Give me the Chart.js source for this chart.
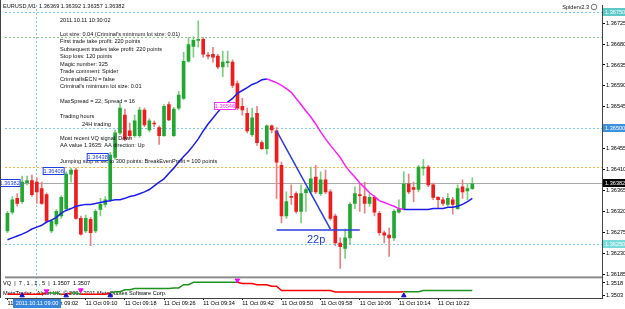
<!DOCTYPE html>
<html>
<head>
<meta charset="utf-8">
<script src="https://cdn.jsdelivr.net/npm/chart.js@4.4.1/dist/chart.umd.min.js"></script>
<style>
html, body { margin: 0; padding: 0; background: #fff; }
#wrap { position: relative; width: 625px; height: 309px; }
</style>
</head>
<body>
<div id="wrap"><canvas id="eurusd-chart" width="625" height="309"></canvas></div>
<script>
// EURUSD M1, 11 Oct 2011, first bar 08:54
const startMinute = 8 * 60 + 54;
const slotCount = 122; // bars + empty space to the right (chart shift)
const timeLabels = [];
for (let i = 0; i < slotCount; i++) {
    const m = startMinute + i;
    timeLabels.push(String(Math.floor(m / 60)).padStart(2, '0') + ':' + String(m % 60).padStart(2, '0'));
}

const openPrices = [
    1.36278, 1.36318, 1.36348, 1.36341, 1.36381, 1.36386, 1.36383, 1.36369, 1.36356, 1.36278,
    1.36293, 1.36310, 1.36326, 1.36400, 1.36409, 1.36305, 1.36278, 1.36303, 1.36278, 1.36324,
    1.36335, 1.36345, 1.36436, 1.36489, 1.36527, 1.36493, 1.36483, 1.36483, 1.36538, 1.36495,
    1.36510, 1.36500, 1.36483, 1.36550, 1.36483, 1.36542, 1.36563, 1.36643, 1.36675, 1.36688,
    1.36690, 1.36656, 1.36658, 1.36654, 1.36631, 1.36640, 1.36641, 1.36595, 1.36546, 1.36531,
    1.36485, 1.36531, 1.36468, 1.36455, 1.36504, 1.36493, 1.36419, 1.36310, 1.36352, 1.36358,
    1.36320, 1.36360, 1.36362, 1.36394, 1.36358, 1.36388, 1.36362, 1.36310, 1.36252, 1.36240,
    1.36263, 1.36337, 1.36356, 1.36352, 1.36337, 1.36350, 1.36316, 1.36274, 1.36269, 1.36263,
    1.36318, 1.36326, 1.36379, 1.36371, 1.36367, 1.36413, 1.36415, 1.36377, 1.36350, 1.36345,
    1.36335, 1.36345, 1.36326, 1.36373, 1.36364, 1.36369
];
const highPrices = [
    1.36320, 1.36352, 1.36358, 1.36396, 1.36396, 1.36398, 1.36392, 1.36383, 1.36360, 1.36303,
    1.36324, 1.36354, 1.36405, 1.36413, 1.36413, 1.36310, 1.36312, 1.36307, 1.36324, 1.36348,
    1.36352, 1.36447, 1.36495, 1.36553, 1.36540, 1.36510, 1.36527, 1.36544, 1.36542, 1.36519,
    1.36515, 1.36504, 1.36550, 1.36555, 1.36544, 1.36578, 1.36662, 1.36694, 1.36696, 1.36730,
    1.36694, 1.36662, 1.36673, 1.36658, 1.36665, 1.36665, 1.36646, 1.36601, 1.36563, 1.36542,
    1.36542, 1.36546, 1.36472, 1.36506, 1.36506, 1.36500, 1.36426, 1.36362, 1.36377, 1.36362,
    1.36377, 1.36371, 1.36415, 1.36419, 1.36405, 1.36409, 1.36367, 1.36314, 1.36263, 1.36282,
    1.36339, 1.36373, 1.36379, 1.36383, 1.36358, 1.36354, 1.36320, 1.36278, 1.36284, 1.36324,
    1.36345, 1.36405, 1.36400, 1.36383, 1.36419, 1.36432, 1.36419, 1.36381, 1.36352, 1.36350,
    1.36358, 1.36350, 1.36377, 1.36388, 1.36379, 1.36392
];
const lowPrices = [
    1.36274, 1.36314, 1.36331, 1.36337, 1.36377, 1.36352, 1.36337, 1.36335, 1.36295, 1.36274,
    1.36288, 1.36305, 1.36322, 1.36383, 1.36303, 1.36269, 1.36274, 1.36246, 1.36274, 1.36310,
    1.36329, 1.36341, 1.36432, 1.36485, 1.36472, 1.36476, 1.36479, 1.36479, 1.36502, 1.36491,
    1.36502, 1.36464, 1.36481, 1.36515, 1.36481, 1.36538, 1.36561, 1.36641, 1.36652, 1.36673,
    1.36652, 1.36648, 1.36641, 1.36627, 1.36610, 1.36631, 1.36586, 1.36538, 1.36527, 1.36489,
    1.36481, 1.36462, 1.36453, 1.36443, 1.36489, 1.36348, 1.36295, 1.36305, 1.36335, 1.36316,
    1.36295, 1.36320, 1.36358, 1.36358, 1.36354, 1.36358, 1.36301, 1.36246, 1.36197, 1.36219,
    1.36250, 1.36326, 1.36320, 1.36316, 1.36331, 1.36310, 1.36269, 1.36252, 1.36223, 1.36257,
    1.36316, 1.36324, 1.36358, 1.36341, 1.36362, 1.36398, 1.36373, 1.36345, 1.36326, 1.36333,
    1.36331, 1.36314, 1.36324, 1.36348, 1.36345, 1.36367
];
const closePrices = [
    1.36316, 1.36345, 1.36337, 1.36383, 1.36386, 1.36356, 1.36362, 1.36337, 1.36299, 1.36299,
    1.36320, 1.36350, 1.36400, 1.36409, 1.36305, 1.36271, 1.36305, 1.36274, 1.36320, 1.36335,
    1.36345, 1.36441, 1.36489, 1.36542, 1.36476, 1.36483, 1.36515, 1.36538, 1.36506, 1.36515,
    1.36508, 1.36483, 1.36546, 1.36517, 1.36540, 1.36570, 1.36643, 1.36679, 1.36688, 1.36690,
    1.36658, 1.36654, 1.36652, 1.36631, 1.36641, 1.36641, 1.36591, 1.36542, 1.36538, 1.36493,
    1.36521, 1.36468, 1.36455, 1.36504, 1.36495, 1.36426, 1.36310, 1.36341, 1.36350, 1.36320,
    1.36358, 1.36367, 1.36390, 1.36362, 1.36388, 1.36362, 1.36305, 1.36252, 1.36244, 1.36263,
    1.36335, 1.36358, 1.36354, 1.36337, 1.36350, 1.36318, 1.36274, 1.36269, 1.36263, 1.36320,
    1.36326, 1.36379, 1.36362, 1.36367, 1.36415, 1.36415, 1.36377, 1.36350, 1.36345, 1.36337,
    1.36348, 1.36335, 1.36369, 1.36362, 1.36369, 1.36379
];

// moving average, blue while rising, magenta while falling
const maValues = [
    1.36259, 1.36263, 1.36267, 1.36271, 1.36276, 1.36282, 1.36286, 1.36290, 1.36297, 1.36301,
    1.36307, 1.36316, 1.36322, 1.36326, 1.36331, 1.36333, 1.36335, 1.36335, 1.36337, 1.36339,
    1.36341, 1.36343, 1.36345, 1.36345, 1.36348, 1.36352, 1.36354, 1.36358, 1.36362, 1.36367,
    1.36375, 1.36383, 1.36390, 1.36402, 1.36413, 1.36426, 1.36438, 1.36449, 1.36462, 1.36476,
    1.36493, 1.36508, 1.36521, 1.36534, 1.36546, 1.36555, 1.36563, 1.36574, 1.36580, 1.36586,
    1.36593, 1.36597, 1.36603, 1.36605, 1.36601, 1.36597, 1.36591, 1.36584, 1.36576, 1.36563,
    1.36550, 1.36536, 1.36523, 1.36508, 1.36491, 1.36476, 1.36462, 1.36449, 1.36436, 1.36419,
    1.36405, 1.36394, 1.36381, 1.36371, 1.36360, 1.36352, 1.36343, 1.36339, 1.36335, 1.36331,
    1.36326, 1.36324, 1.36324, 1.36324, 1.36324, 1.36324, 1.36324, 1.36326, 1.36326, 1.36326,
    1.36329, 1.36329, 1.36331, 1.36335, 1.36341, 1.36348
];
const maFallStart = 53;
const maFallEnd = 81;

// trend lines drawn on the chart
const trendDiagonal = [['09:49', 1.36493], ['10:00', 1.36282]];
const trendFlat = [['09:49', 1.36280], ['10:06', 1.36280]];
const trendLabel = '22p';

// horizontal levels
const levelPrices = [1.36750, 1.36696, 1.36500, 1.36415, 1.36382, 1.36250];
const priceTicks = [1.36725, 1.36680, 1.36635, 1.36590, 1.36545, 1.36500, 1.36455,
    1.36410, 1.36365, 1.36320, 1.36275, 1.36230, 1.36185];

// price tags on the chart: [bar time, price]
const priceTags = [['08:57', 1.36382], ['09:06', 1.36406], ['09:15', 1.36438], ['09:41', 1.36546]];

// VQ indicator (lower window)
const vqValues = [
    1.35046, 1.35046, 1.35046, 1.35046, 1.35046, 1.35046, 1.35046, 1.35046, 1.35061, 1.35061,
    1.35061, 1.35046, 1.35046, 1.35061, 1.35061, 1.35046, 1.35046, 1.35046, 1.35046, 1.35046,
    1.35046, 1.35061, 1.35076, 1.35076, 1.35100, 1.35100, 1.35115, 1.35115, 1.35115, 1.35115,
    1.35115, 1.35115, 1.35115, 1.35115, 1.35122, 1.35122, 1.35160, 1.35160, 1.35188, 1.35188,
    1.35188, 1.35188, 1.35188, 1.35188, 1.35188, 1.35188, 1.35188, 1.35188, 1.35173, 1.35173,
    1.35173, 1.35160, 1.35160, 1.35160, 1.35142, 1.35142, 1.35090, 1.35090, 1.35090, 1.35090,
    1.35090, 1.35090, 1.35090, 1.35090, 1.35090, 1.35090, 1.35090, 1.35075, 1.35075, 1.35075,
    1.35075, 1.35075, 1.35075, 1.35075, 1.35075, 1.35075, 1.35075, 1.35075, 1.35075, 1.35075,
    1.35075, 1.35078, 1.35078, 1.35078, 1.35078, 1.35090, 1.35090, 1.35090, 1.35090, 1.35090,
    1.35090, 1.35090, 1.35090, 1.35090, 1.35090, 1.35090
];
const vqTurns = [[0, -1], [8, 1], [11, -1], [13, 1], [15, -1], [21, 1], [47, -1], [81, 1]];
const vqUpArrows = [['08:57', 1.35032], ['09:06', 1.35032], ['09:15', 1.35032], ['10:15', 1.35032]];
const vqDownArrows = [['09:02', 1.35084], ['09:09', 1.35096], ['09:41', 1.35211]];
const vqTicks = [1.3518, 1.3503];

const infoLines = [
    ['2011.10.11 10:30:02', 20],
    ["Lot size: 0.04 (Criminal's minimum lot size: 0.01)", 34],
    ['First trade take profit: 220 points', 41.5],
    ['Subsequent trades take profit: 220 points', 49],
    ['Stop loss: 120 points', 56.5],
    ['Magic number: 325', 64],
    ['Trade comment: Spider', 71.5],
    ['CriminalIsECN = false', 79],
    ["Criminal's minimum lot size: 0.01", 86.5],
    ['MaxSpread = 22; Spread = 16', 101.5],
    ['Trading hours', 116.5],
    ['Most recent VQ signal: Down', 138],
    ['AA value 1.3635: AA direction: Up', 145.5],
    ['Jumping stop is set to 300 points: BreakEvenProfit = 100 points', 161]
];

const BULL = '#22a832', BEAR = '#ee1c1c';
const BULL_WICK = '#7ccf7c', BEAR_WICK = '#eb8080';
const SMALL_FONT = '5.6px "Liberation Sans", Arial, sans-serif';

function vqDirAt(i) {
    let d = -1;
    vqTurns.forEach(t => { if (i >= t[0]) d = t[1]; });
    return d;
}

const levelStyle = [
    {color: '#7cc6f0', dash: [2, 2]},
    {color: '#8cc88c', dash: [2, 2]},
    {color: '#7cc6f0', dash: [2, 2]},
    {color: '#ffb347', dash: [2, 2]},
    {color: '#a8a8a8', dash: []},
    {color: '#7cc6f0', dash: [2, 2]}
];
const axisTags = [
    {level: 0, bg: '#5cc8c8', fg: '#fff'},
    {level: 2, bg: '#3d8fe0', fg: '#fff'},
    {level: 4, bg: '#000', fg: '#fff'},
    {level: 5, bg: '#79dada', fg: '#fff'}
];

const mt4Overlay = {
    id: 'mt4Overlay',
    beforeDatasetsDraw(chart) {
        const {ctx, chartArea, scales} = chart;
        const y = scales.y, x = scales.x;
        ctx.save();
        ctx.beginPath();
        ctx.rect(chartArea.left, y.top, chartArea.width, y.height);
        ctx.clip();
        levelPrices.forEach((p, i) => {
            const py = Math.round(y.getPixelForValue(p)) + 0.5;
            ctx.strokeStyle = levelStyle[i].color;
            ctx.setLineDash(levelStyle[i].dash);
            ctx.lineWidth = 1;
            ctx.beginPath();
            ctx.moveTo(chartArea.left, py);
            ctx.lineTo(chartArea.right, py);
            ctx.stroke();
        });
        ctx.restore();

        // crosshair at 09:00
        ctx.save();
        const cx = Math.round(x.getPixelForValue(timeLabels.indexOf('09:00'))) - 0.5;
        ctx.strokeStyle = '#7cc6f0';
        ctx.setLineDash([2, 2]);
        ctx.beginPath();
        ctx.moveTo(cx, chartArea.top);
        ctx.lineTo(cx, chartArea.bottom);
        ctx.stroke();
        ctx.restore();

        // indicator window text
        ctx.save();
        ctx.font = SMALL_FONT;
        ctx.fillStyle = '#000';
        ctx.textBaseline = 'middle';
        ctx.fillText('VQ  |  7 , 1 , 1 , 5  |  1.3507  1.3507', 3, 283);
        ctx.fillText('MetaTrader - Alpari UK, \u00a9 2001-2011 MetaQuotes Software Corp.', 3, 293);
        ctx.restore();
    },
    afterDatasetsDraw(chart) {
        const {ctx, chartArea, scales} = chart;
        const y = scales.y, x = scales.x;
        ctx.save();
        ctx.font = SMALL_FONT;
        ctx.textBaseline = 'middle';
        ctx.fillStyle = '#111';
        ctx.fillText('EURUSD,M1  1.36369 1.36392 1.36357 1.36382', 3, 6);
        infoLines.forEach(l => ctx.fillText(l[0], 60, l[1]));
        ctx.fillText('24H trading', 82, 124);
        ctx.textAlign = 'right';
        ctx.fillText('Spiderv2.3', 589, 7);
        ctx.beginPath();
        ctx.arc(594, 7, 2.8, 0, Math.PI * 2);
        ctx.strokeStyle = '#777';
        ctx.setLineDash([]);
        ctx.stroke();

        // price tags
        ctx.textAlign = 'center';
        priceTags.forEach((t, i) => {
            const color = i === 3 ? '#ff33ff' : '#1f3fe0';
            const right = x.getPixelForValue(timeLabels.indexOf(t[0])) - 1.5;
            const py = Math.round(y.getPixelForValue(t[1]));
            ctx.fillStyle = '#fff';
            ctx.fillRect(right - 22, py - 4, 22, 8);
            ctx.strokeStyle = color;
            ctx.strokeRect(right - 21.5, py - 3.5, 21, 7);
            ctx.fillStyle = color;
            ctx.fillText(t[1].toFixed(5), right - 11, py + 0.5);
        });

        // 22p label
        ctx.textAlign = 'left';
        ctx.font = '11px "Liberation Sans", Arial, sans-serif';
        ctx.fillStyle = '#1f3fe0';
        ctx.fillText(trendLabel, x.getPixelForValue(timeLabels.indexOf('09:55')) + 1, y.getPixelForValue(1.36258));
        ctx.restore();

        // panel separator
        const y2 = scales.y2;
        ctx.save();
        ctx.fillStyle = '#8c8c8c';
        ctx.fillRect(chartArea.left, y2.top - 1, chartArea.width, 2);
        ctx.restore();
    },
    afterDraw(chart) {
        const {ctx, chartArea, scales} = chart;
        const y = scales.y, x = scales.x;
        ctx.save();
        ctx.font = SMALL_FONT;
        ctx.textBaseline = 'middle';
        axisTags.forEach(t => {
            const p = levelPrices[t.level];
            const py = Math.round(y.getPixelForValue(p));
            ctx.fillStyle = t.bg;
            ctx.fillRect(chartArea.right + 1, py - 4, 22, 8);
            ctx.fillStyle = t.fg;
            ctx.fillText(p.toFixed(5), chartArea.right + 3, py + 0.5);
        });
        // crosshair date box
        const cx = Math.round(x.getPixelForValue(timeLabels.indexOf('09:00')));
        ctx.fillStyle = '#3a86dc';
        ctx.fillRect(cx - 24, chartArea.bottom + 1, 48, 9);
        ctx.fillStyle = '#fff';
        ctx.textAlign = 'center';
        ctx.fillText('2011.10.11 09:00', cx, chartArea.bottom + 5.5);
        // frame
        ctx.strokeStyle = '#444';
        ctx.lineWidth = 1;
        ctx.beginPath();
        ctx.moveTo(0.5, 0);
        ctx.lineTo(0.5, chartArea.bottom);
        ctx.stroke();
        ctx.restore();
    }
};

const labelCount = closePrices.length;
const bodyData = openPrices.map((o, i) => [o, closePrices[i]]);
const wickData = lowPrices.map((l, i) => [l, highPrices[i]]);
const isBull = openPrices.map((o, i) => closePrices[i] >= o);
const maRise = maValues.map((v, i) => (i <= maFallStart || i >= maFallEnd) ? v : null);
const maFall = maValues.map((v, i) => (i >= maFallStart && i <= maFallEnd) ? v : null);
const toPoints = arr => arr.map(p => ({x: p[0], y: p[1]}));

new Chart(document.getElementById('eurusd-chart'), {
    type: 'bar',
    data: {
        labels: timeLabels,
        datasets: [
            {
                type: 'line', label: 'trend', data: toPoints(trendDiagonal), yAxisID: 'y',
                borderColor: '#2a3ce0', borderWidth: 1.5, pointRadius: 0, order: 0
            },
            {
                type: 'line', label: 'trend flat', data: toPoints(trendFlat), yAxisID: 'y',
                borderColor: '#2a3ce0', borderWidth: 1.5, pointRadius: 0, order: 0
            },
            {
                type: 'line', label: 'MA up', data: maRise, yAxisID: 'y',
                borderColor: '#1c1cf0', borderWidth: 1.5, pointRadius: 0, order: 0
            },
            {
                type: 'line', label: 'MA down', data: maFall, yAxisID: 'y',
                borderColor: '#ff1cff', borderWidth: 1.5, pointRadius: 0, order: 0
            },
            {
                label: 'body', data: bodyData, yAxisID: 'y', grouped: false,
                barThickness: 3, minBarLength: 1, borderWidth: 0,
                backgroundColor: isBull.map(b => b ? BULL : BEAR), order: 1
            },
            {
                label: 'wick', data: wickData, yAxisID: 'y', grouped: false,
                barThickness: 1, borderWidth: 0,
                backgroundColor: isBull.map(b => b ? BULL_WICK : BEAR_WICK), order: 2
            },
            {
                type: 'line', label: 'VQ', data: vqValues, yAxisID: 'y2',
                borderWidth: 1.5, pointRadius: 0, order: 3,
                segment: {borderColor: c => vqDirAt(c.p0DataIndex) > 0 ? '#1f931f' : '#ff0000'}
            },
            {
                type: 'line', label: 'VQ up', data: toPoints(vqUpArrows), yAxisID: 'y2',
                showLine: false, pointStyle: 'triangle', pointRadius: 2.6,
                pointBackgroundColor: '#1010d0', pointBorderColor: '#1010d0', order: 0
            },
            {
                type: 'line', label: 'VQ down', data: toPoints(vqDownArrows), yAxisID: 'y2',
                showLine: false, pointStyle: 'triangle', pointRotation: 180, pointRadius: 2.6,
                pointBackgroundColor: '#ff00ff', pointBorderColor: '#ff00ff', order: 0
            }
        ]
    },
    options: {
        responsive: false,
        animation: false,
        layout: {padding: 0},
        plugins: {legend: {display: false}, tooltip: {enabled: false}},
        scales: {
            x: {
                offset: true,
                grid: {
                    display: true, drawOnChartArea: false, offset: false, tickLength: 2,
                    color: c => (c.index % 8 === 0 && c.index < labelCount) ? '#000' : 'rgba(0,0,0,0)'
                },
                border: {color: '#444'},
                ticks: {
                    autoSkip: false, maxRotation: 0, align: 'start', padding: 0,
                    color: '#000', font: {family: '"Liberation Sans", Arial, sans-serif', size: 5.6},
                    callback: (v, i) => (i % 8 === 0 && i < labelCount) ? '11 Oct ' + timeLabels[i] : ''
                },
                afterFit: s => { s.height = 11; }
            },
            y: {
                position: 'right', stack: 'panels', stackWeight: 277,
                min: 1.36178, max: 1.36764,
                grid: {drawOnChartArea: false, tickLength: 3, color: '#000'},
                border: {color: '#444'},
                afterBuildTicks: s => { s.ticks = priceTicks.map(v => ({value: v})); },
                ticks: {
                    padding: 1, color: '#000',
                    font: {family: '"Liberation Sans", Arial, sans-serif', size: 5.6},
                    callback: v => v.toFixed(5)
                },
                afterFit: s => { s.width = 23; }
            },
            y2: {
                position: 'right', stack: 'panels', stackWeight: 21,
                min: 1.35003, max: 1.35246,
                grid: {drawOnChartArea: false, tickLength: 3, color: '#000'},
                border: {color: '#444'},
                afterBuildTicks: s => { s.ticks = vqTicks.map(v => ({value: v})); },
                ticks: {
                    padding: 1, color: '#000',
                    font: {family: '"Liberation Sans", Arial, sans-serif', size: 5.6},
                    callback: v => v.toFixed(4)
                },
                afterFit: s => { s.width = 23; }
            }
        }
    },
    plugins: [mt4Overlay]
});
</script>
</body>
</html>
